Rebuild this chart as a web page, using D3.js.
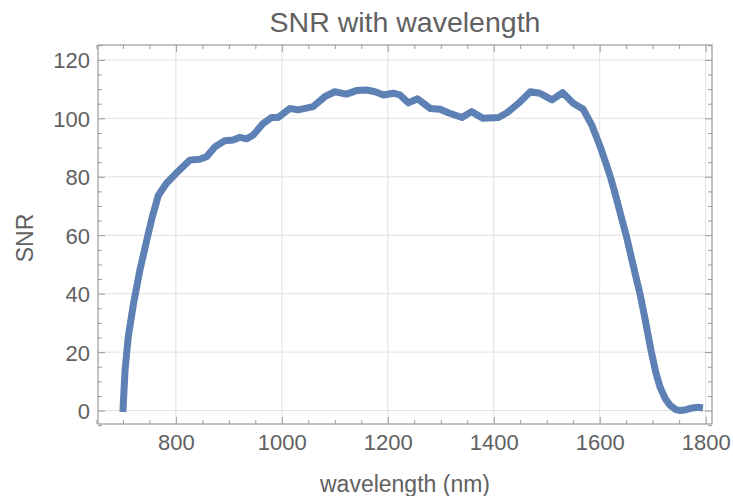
<!DOCTYPE html>
<html>
<head>
<meta charset="utf-8">
<script src="https://cdn.jsdelivr.net/npm/d3@7"></script>
<style>
  body { margin: 0; background: #fff; }
  text { font-family: "Liberation Sans", Arial, sans-serif; fill: #616161; }
</style>
</head>
<body>
<svg id="chart" width="733" height="496"></svg>
<script>
// wavelength (nm) and SNR
const wavelength = [700, 704, 710, 720, 732, 745, 755, 767, 782, 800, 826, 845, 858, 874, 892, 908,
  921, 934, 946, 965, 981, 993, 1015, 1031, 1044, 1059, 1081, 1100, 1122, 1141, 1160, 1176,
  1192, 1210, 1223, 1239, 1256, 1280, 1299, 1314, 1340, 1358, 1380, 1409, 1425, 1447, 1469,
  1487, 1510, 1530, 1550, 1569, 1585, 1601, 1611, 1621, 1631, 1641, 1650, 1659, 1668, 1676,
  1686, 1697, 1706, 1714, 1724, 1733, 1743, 1752, 1763, 1775, 1786, 1795];
const snr = [-0.5, 13.7, 25.1, 36.6, 48, 58.3, 66, 73.7, 77.7, 81.1, 85.7, 86, 86.9, 90.3, 92.3, 92.6,
  93.5, 93, 94.3, 98.3, 100.3, 100.3, 103.4, 102.9, 103.4, 104, 107.4, 109.1, 108.3, 109.5, 109.7, 109.1,
  108, 108.6, 108, 105.3, 106.7, 103.4, 103.1, 101.9, 100.3, 102.3, 100, 100.3, 101.9, 105.2, 109.1,
  108.6, 106.3, 108.8, 105.2, 103.1, 97.7, 90.3, 85, 79.5, 73, 66, 60, 53, 46, 40,
  31, 20.5, 13, 8, 4, 1.8, 0.4, 0, 0.3, 0.9, 1.1, 0.9];

const xMajor = [800, 1000, 1200, 1400, 1600, 1800];
const yMajor = [0, 20, 40, 60, 80, 100, 120];
const xMinor = d3.range(650, 1825, 50).filter(v => !xMajor.includes(v));
const yMinor = d3.range(-5, 126, 5).filter(v => !yMajor.includes(v));

const title = "SNR with wavelength";
const xLabel = "wavelength (nm)";
const yLabel = "SNR";

const margin = {top: 45, right: 21, bottom: 72, left: 98},
  width = 733 - margin.left - margin.right,
  height = 496 - margin.top - margin.bottom;

const svg = d3.select("#chart");
const g = svg.append("g")
  .attr("transform", "translate(" + margin.left + "," + margin.top + ")");

const x = d3.scaleLinear().domain([653, 1812]).range([0, width]);
const y = d3.scaleLinear().domain([-4.6, 125.1]).range([height, 0]);

// grid lines
g.append("g").selectAll("line")
  .data(xMajor).join("line")
  .attr("x1", d => x(d)).attr("x2", d => x(d))
  .attr("y1", 0).attr("y2", height)
  .attr("stroke", "#e2e2e2").attr("stroke-width", 1);
g.append("g").selectAll("line")
  .data(yMajor).join("line")
  .attr("y1", d => y(d)).attr("y2", d => y(d))
  .attr("x1", 0).attr("x2", width)
  .attr("stroke", "#e2e2e2").attr("stroke-width", 1);

// line
const pts = wavelength.map((w, i) => [w, snr[i]]);
g.append("path")
  .datum(pts)
  .attr("fill", "none")
  .attr("stroke", "#5e81b5")
  .attr("stroke-width", 7)
  .attr("stroke-linejoin", "round")
  .attr("d", d3.line().x(d => x(d[0])).y(d => y(d[1])));

// frame ticks (inward, all four sides)
function styleAxis(sel) {
  sel.select(".domain").remove();
  sel.selectAll(".tick line").attr("stroke", "#9a9a9a");
  sel.selectAll("text").attr("font-size", 22).attr("fill", "#616161");
}

const bottom = g.append("g").attr("transform", "translate(0," + height + ")")
  .call(d3.axisBottom(x).tickValues(xMajor).tickSize(-7).tickFormat(d3.format("d")));
styleAxis(bottom);
bottom.selectAll("text").attr("dy", null).attr("y", 26);
g.append("g").attr("transform", "translate(0," + height + ")")
  .call(d3.axisBottom(x).tickValues(xMinor).tickSize(-4).tickFormat(""))
  .call(styleAxis);

g.append("g")
  .call(d3.axisTop(x).tickValues(xMajor).tickSize(-7).tickFormat(""))
  .call(styleAxis);
g.append("g")
  .call(d3.axisTop(x).tickValues(xMinor).tickSize(-4).tickFormat(""))
  .call(styleAxis);

const left = g.append("g")
  .call(d3.axisLeft(y).tickValues(yMajor).tickSize(-7).tickPadding(8));
styleAxis(left);
left.selectAll("text").attr("dy", "0.36em");
g.append("g")
  .call(d3.axisLeft(y).tickValues(yMinor).tickSize(-4).tickFormat(""))
  .call(styleAxis);

g.append("g").attr("transform", "translate(" + width + ",0)")
  .call(d3.axisRight(y).tickValues(yMajor).tickSize(-7).tickFormat(""))
  .call(styleAxis);
g.append("g").attr("transform", "translate(" + width + ",0)")
  .call(d3.axisRight(y).tickValues(yMinor).tickSize(-4).tickFormat(""))
  .call(styleAxis);

// frame
g.append("rect")
  .attr("x", 0).attr("y", 0)
  .attr("width", width).attr("height", height)
  .attr("fill", "none")
  .attr("stroke", "#9a9a9a")
  .attr("stroke-width", 1.2);

// title and labels
svg.append("text")
  .attr("x", margin.left + width / 2)
  .attr("y", 32)
  .attr("text-anchor", "middle")
  .attr("font-size", 28.5)
  .text(title);

svg.append("text")
  .attr("x", margin.left + width / 2)
  .attr("y", 492)
  .attr("text-anchor", "middle")
  .attr("font-size", 23)
  .text(xLabel);

svg.append("text")
  .attr("transform", "translate(33," + 238 + ") rotate(-90)")
  .attr("text-anchor", "middle")
  .attr("font-size", 23)
  .text(yLabel);
</script>
</body>
</html>
